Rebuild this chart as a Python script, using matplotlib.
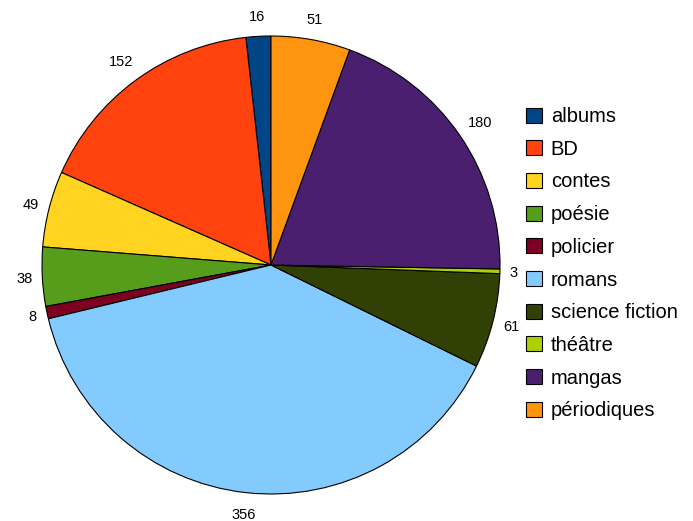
import matplotlib
matplotlib.use("Agg")
import matplotlib.pyplot as plt
import numpy as np

categories = ["albums", "BD", "contes", "poésie", "policier", "romans",
              "science fiction", "théâtre", "mangas", "périodiques"]
values = [16, 152, 49, 38, 8, 356, 61, 3, 180, 51]
colors = ["#004586", "#ff420e", "#ffd320", "#579d1c", "#7e0021",
          "#83caff", "#314004", "#aecf00", "#4b1f6f", "#ff950e"]

plt.rcParams['font.family'] = ['Liberation Sans', 'DejaVu Sans']

W, H = 693, 521
fig = plt.figure(figsize=(W / 100, H / 100), dpi=100)
cx, cy, r = 271, 265, 229
ax = fig.add_axes([(cx - r) / W, (H - cy - r) / H, 2 * r / W, 2 * r / H])

wedges, _ = ax.pie(values, colors=colors, startangle=90, counterclock=True,
                   wedgeprops=dict(edgecolor="black", linewidth=0.8))

# value labels placed at a gap outside the circle (LibreOffice style)
fs = 10.5
em = fs * 100 / 72.0
total = float(sum(values))
cum = 0.0
for v in values:
    mid = 90 + (cum + v / 2.0) / total * 360.0
    cum += v
    th = np.deg2rad(mid)
    dx, dy = np.cos(th), np.sin(th)
    s = str(v)
    hw = len(s) * 0.556 * em / 2.0
    hh = 0.716 * em / 2.0
    gap = np.hypot(9.5 * dx, 14.5 * dy)
    d = r + gap + abs(dx) * hw + abs(dy) * hh
    px, py = d * dx, d * dy
    ax.text(px / r, (py - hh) / r, s, ha="center", va="baseline",
            fontsize=fs, color="black")

ax.set_xlim(-1, 1)
ax.set_ylim(-1, 1)
ax.set_aspect("equal")
ax.axis("off")

leg = fig.legend(wedges, categories, loc="upper left",
                 bbox_to_anchor=(516 / W, 1 - 97 / H), frameon=False,
                 fontsize=14.5, handlelength=0.77, handleheight=0.77,
                 handletextpad=0.45, labelspacing=0.68, borderpad=0)

fig.savefig("out.png", dpi=100)
